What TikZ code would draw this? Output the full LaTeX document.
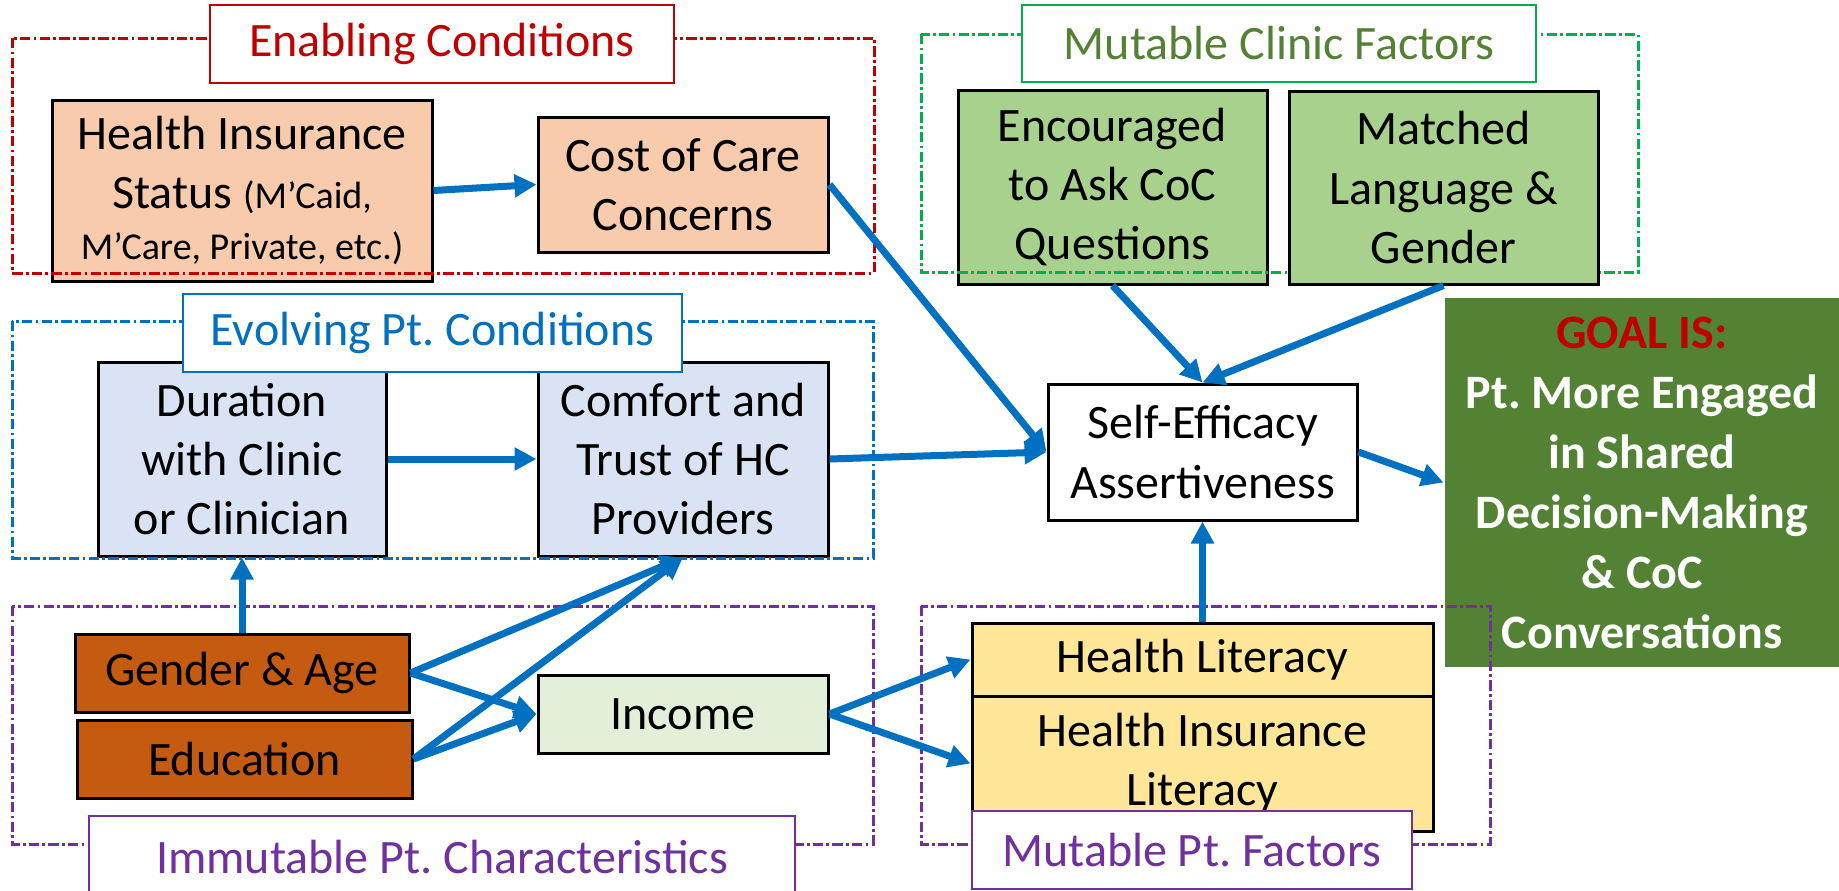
\documentclass[tikz,border=0pt]{standalone}
\usepackage{fontspec}
\setmainfont{Carlito}
\usetikzlibrary{arrows.meta}
\frenchspacing

\definecolor{ecred}{HTML}{C00000}
\definecolor{evblue}{HTML}{0070C0}
\definecolor{mcgreen}{HTML}{00B050}
\definecolor{mctext}{HTML}{548235}
\definecolor{ptpurple}{HTML}{7030A0}
\definecolor{peach}{HTML}{F8CBAD}
\definecolor{paleblue}{HTML}{DAE3F3}
\definecolor{rust}{HTML}{C55A11}
\definecolor{palegreen}{HTML}{E2F0D9}
\definecolor{leaf}{HTML}{A9D18E}
\definecolor{butter}{HTML}{FFE699}
\definecolor{goalgreen}{HTML}{548235}

\newdimen\pxu \pxu=0.25pt
\newcommand\minor{\fontsize{9.5}{11}\selectfont}

\tikzset{
  sz/.style 2 args={minimum width=#1*\pxu, minimum height=#2*\pxu},
  factor/.style={draw=black, line width=0.75pt, align=center, inner sep=1pt,
    font=\fontsize{12}{14.8}\selectfont},
  title/.style={draw, line width=0.5pt, fill=white, align=center,
    font=\fontsize{12}{14.8}\selectfont},
  region/.style={line width=0.75pt, dash pattern=on 2.6pt off 0.8pt on 0.7pt off 0.8pt},
  link/.style={draw=evblue, line width=1.75pt, -{Triangle[length=5.5pt,width=5.5pt]}},
}

\begin{document}
\begin{tikzpicture}[x=0.25pt, y=-0.25pt]
  \clip (0,0) rectangle (1839,890);

  % factor boxes
  \node[factor, fill=peach, sz={380}{181}] (insurance) at (242,190.5)
    {Health Insurance\\Status {\minor(M'Caid,}\\[-2.2pt]{\minor M'Care, Private, etc.)}};
  \node[factor, fill=peach, sz={290}{135}] (cost) at (683,184.5) {Cost of Care\\Concerns};
  \node[factor, fill=leaf, sz={309}{194}] (encouraged) at (1112.5,187) {Encouraged\\to Ask CoC\\Questions};
  \node[factor, fill=paleblue, sz={288}{194}] (duration) at (242,459) {Duration\\with Clinic\\or Clinician};
  \node[factor, fill=paleblue, sz={290}{194}] (comfort) at (683,459) {Comfort and\\Trust of HC\\Providers};
  \node[factor, fill=white, sz={309}{136}] (selfeff) at (1202.5,452) {Self-Efficacy\\Assertiveness};
  \node[factor, draw=none, fill=goalgreen, text=white, sz={394}{369},
    font=\fontsize{12}{15}\selectfont\bfseries] (goal) at (1642,482.5)
    {\textcolor{ecred}{GOAL IS:}\\Pt. More Engaged\\in Shared\\Decision-Making\\\& CoC\\Conversations};
  \node[factor, fill=rust, sz={334}{78}] (gender) at (242,673) {Gender \& Age};
  \node[factor, fill=rust, sz={335}{78}] (education) at (244.5,759) {Education};
  \node[factor, fill=palegreen, sz={290}{78}] (income) at (683,714) {Income};
  \node[factor, fill=butter, sz={461}{73}] (hlit) at (1202.5,659.5) {Health Literacy};
  \node[factor, fill=butter, sz={461}{135}] (hilit) at (1202.5,763.5) {Health Insurance\\Literacy};

  % dash-dot groupings
  \draw[region, draw=ecred] (12,38) rectangle (874,273);
  \draw[region, draw=mcgreen] (921,34) rectangle (1638,272);
  \draw[region, draw=evblue] (12,321) rectangle (873,558);
  \draw[region, draw=ptpurple] (12,606) rectangle (873,844);
  \draw[region, draw=ptpurple] (921,606) rectangle (1490,844);

  \node[factor, fill=leaf, sz={309}{193}] (matched) at (1443.5,187.5) {Matched\\Language \&\\Gender};

  % group titles
  \node[title, draw=ecred, text=ecred, sz={464}{78}] (tEnabling) at (442,44) {Enabling Conditions};
  \node[title, draw=mcgreen, text=mctext, sz={514}{77}] (tClinic) at (1279,43.5) {Mutable Clinic Factors};
  \node[title, draw=evblue, text=evblue, sz={499}{78}] (tEvolving) at (432.5,333) {Evolving Pt. Conditions};
  \node[title, draw=ptpurple, text=ptpurple, sz={706}{82}] (tImmutable) at (442,857) {Immutable Pt. Characteristics};
  \node[title, draw=ptpurple, text=ptpurple, sz={440}{78}] (tMutable) at (1192,850) {Mutable Pt. Factors};

  % influences
  \draw[link] (insurance.east) -- (cost.west);
  \draw[link] (cost.east) -- (selfeff.west);
  \draw[link] (duration.east) -- (comfort.west);
  \draw[link] (comfort.east) -- (selfeff.west);
  \draw[link] (gender.north) -- (duration.south);
  \draw[link] (gender.east) -- (comfort.south);
  \draw[link] (education.east) -- (comfort.south);
  \draw[link] (gender.east) -- (income.west);
  \draw[link] (education.east) -- (income.west);
  \draw[link] (income.east) -- (hlit.west);
  \draw[link] (income.east) -- (hilit.west);
  \draw[link] (hlit.north) -- (selfeff.south);
  \draw[link] (encouraged.south) -- (selfeff.north);
  \draw[link] (matched.south) -- (selfeff.north);
  \draw[link] (selfeff.east) -- (goal.west);
\end{tikzpicture}
\end{document}
